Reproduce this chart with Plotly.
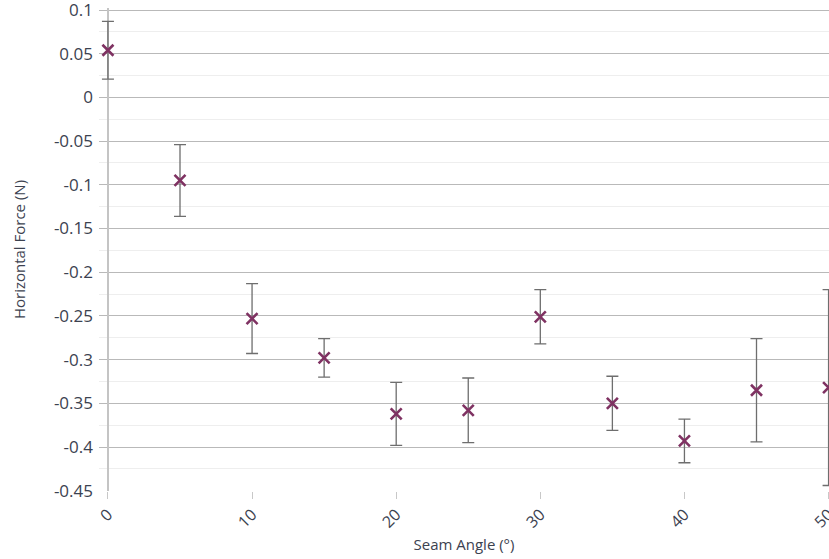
import plotly.graph_objects as go

seam_angle = [0, 5, 10, 15, 20, 25, 30, 35, 40, 45, 50]
force = [0.054, -0.095, -0.253, -0.298, -0.362, -0.358, -0.251, -0.350, -0.393, -0.335, -0.332]
err = [0.033, 0.041, 0.040, 0.022, 0.036, 0.037, 0.031, 0.031, 0.025, 0.059, 0.112]

y_tickvals = [0.1, 0.05, 0, -0.05, -0.1, -0.15, -0.2, -0.25, -0.3, -0.35, -0.4, -0.45]
y_ticktext = ["0.1", "0.05", "0", "-0.05", "-0.1", "-0.15", "-0.2", "-0.25", "-0.3", "-0.35", "-0.4", "-0.45"]
x_tickvals = [0, 10, 20, 30, 40, 50]
x_ticktext = ["0", "10", "20", "30", "40", "50"]

fig = go.Figure()
fig.add_trace(go.Scatter(
    x=seam_angle, y=force, mode="markers",
    marker=dict(symbol="x-thin", size=11, color="#7f3262",
                line=dict(width=2.6, color="#7f3262")),
    error_y=dict(type="data", array=err, visible=True, color="#6e6e6e",
                 thickness=1.3, width=6),
    cliponaxis=False,
    showlegend=False,
))

font_family = "Open Sans, Noto Sans, sans-serif"
txt = "#3c4250"
fig.update_layout(
    width=829, height=559,
    margin=dict(l=99, r=0, t=8, b=68),
    plot_bgcolor="white", paper_bgcolor="white",
    font=dict(family=font_family, size=16, color=txt),
    xaxis=dict(
        range=[-0.62, 50.03], tickvals=x_tickvals, ticktext=x_ticktext,
        tickangle=-45, showgrid=False, automargin=False,
        zeroline=True, zerolinecolor="#c4c4c4", zerolinewidth=1.5,
        showline=False, ticks="outside", ticklen=7, tickcolor="#c8c8c8",
        tickfont=dict(size=16, color=txt), ticklabeloverflow="allow",
        title=dict(text="Seam Angle (°)", font=dict(size=15, color=txt), standoff=8),
    ),
    yaxis=dict(
        range=[-0.4503, 0.1023], tickvals=y_tickvals, ticktext=y_ticktext,
        showgrid=True, gridcolor="#b9b9b9", gridwidth=1.2, automargin=False,
        zeroline=False, showline=False,
        ticks="", ticklabelstandoff=5, ticklabeloverflow="allow",
        tickfont=dict(size=17, color=txt),
        minor=dict(dtick=0.025, tick0=0, showgrid=True, gridcolor="#eeeeee", gridwidth=1),
        title=dict(text="Horizontal Force (N)", font=dict(size=15, color=txt), standoff=24),
    ),
)

fig.write_html("out.html")
